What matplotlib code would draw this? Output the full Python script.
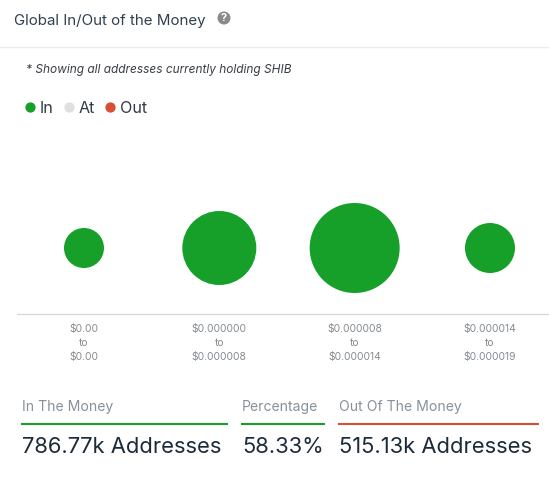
import matplotlib
matplotlib.use("Agg")
import matplotlib.pyplot as plt
from matplotlib.lines import Line2D
from matplotlib.patches import Circle

plt.rcParams['font.family'] = ['Inter', 'DejaVu Sans']

W, H = 549, 488

ranges = ["$0.00\nto\n$0.00", "$0.000000\nto\n$0.000008",
          "$0.000008\nto\n$0.000014", "$0.000014\nto\n$0.000019"]
in_bubble = [40, 74, 90, 50]  # bubble diameters, px
legend_names = ["In", "At", "Out"]
legend_colors = ["#16a02a", "#e0e0e0", "#d94f35"]
stat_heads = ["In The Money", "Percentage", "Out Of The Money"]
stat_values = ["786.77k Addresses", "58.33%", "515.13k Addresses"]
stat_colors = ["#16a02a", "#16a02a", "#d94f35"]
stat_left = [22, 242, 339]
stat_right = [227, 324, 538]


def fx(px):
    return px / W


def fy(px):
    return 1 - px / H


fig = plt.figure(figsize=(W / 100, H / 100), dpi=100, facecolor="white")

# bubble chart
ax = fig.add_axes([fx(17), fy(314), fx(549 - 17), 184 / H])
sizes = [(d * 0.72) ** 2 for d in in_bubble]
ax.scatter(range(len(ranges)), [0] * len(ranges), s=sizes, color=legend_colors[0],
           linewidths=0, clip_on=False)
ax.set_xlim(-0.495, 3.436)
ax.set_ylim(-66 / 92, 118 / 92)
ax.set_yticks([])
ax.set_xticks(range(len(ranges)))
ax.set_xticklabels(ranges, fontsize=7.4, color="#858b90", linespacing=1.5)
ax.tick_params(axis="x", length=0, pad=7.5)
for side in ["top", "left", "right"]:
    ax.spines[side].set_visible(False)
ax.spines["bottom"].set_color("#d3dae2")
ax.spines["bottom"].set_linewidth(1)

# header
fig.add_artist(Line2D([0, 1], [fy(46.5)] * 2, color="#eeeeee", lw=1))
fig.text(fx(14), fy(20.5), "Global In/Out of the Money", fontsize=10.9, color="#2f4050",
         va="center", ha="left")
fig.add_artist(Circle((224, H - 18), 6.5, transform=None, color="#8a8a8a", lw=0))
fig.text(fx(224), fy(18), "?", fontsize=8, fontweight="bold", color="white",
         ha="center", va="center")
fig.text(fx(26), fy(70), "* Showing all addresses currently holding SHIB", fontsize=8.55,
         style="italic", color="#3a3f45", va="center", ha="left")

# legend
handles = [Line2D([], [], ls="", marker="o", ms=7.4, mew=0, color=c) for c in legend_colors]
fig.legend(handles, legend_names, loc="center left", bbox_to_anchor=(fx(22), fy(108.5)),
           ncol=3, frameon=False, fontsize=11.6, labelcolor="#2f3b45", handlelength=0.6,
           handletextpad=0.32, columnspacing=0.63, borderaxespad=0, borderpad=0.2)

# summary stats under the chart
for head, val, col, x0, x1 in zip(stat_heads, stat_values, stat_colors, stat_left, stat_right):
    fig.text(fx(x0), fy(407.5), head, fontsize=10.1, color="#87929b", va="center", ha="left")
    fig.add_artist(Line2D([fx(x0), fx(x1)], [fy(424)] * 2, color=col, lw=1.5))
    fig.text(fx(x0), fy(447), val, fontsize=15.8, color="#1c2b3a", va="center", ha="left")

fig.savefig("out.png", dpi=100)
